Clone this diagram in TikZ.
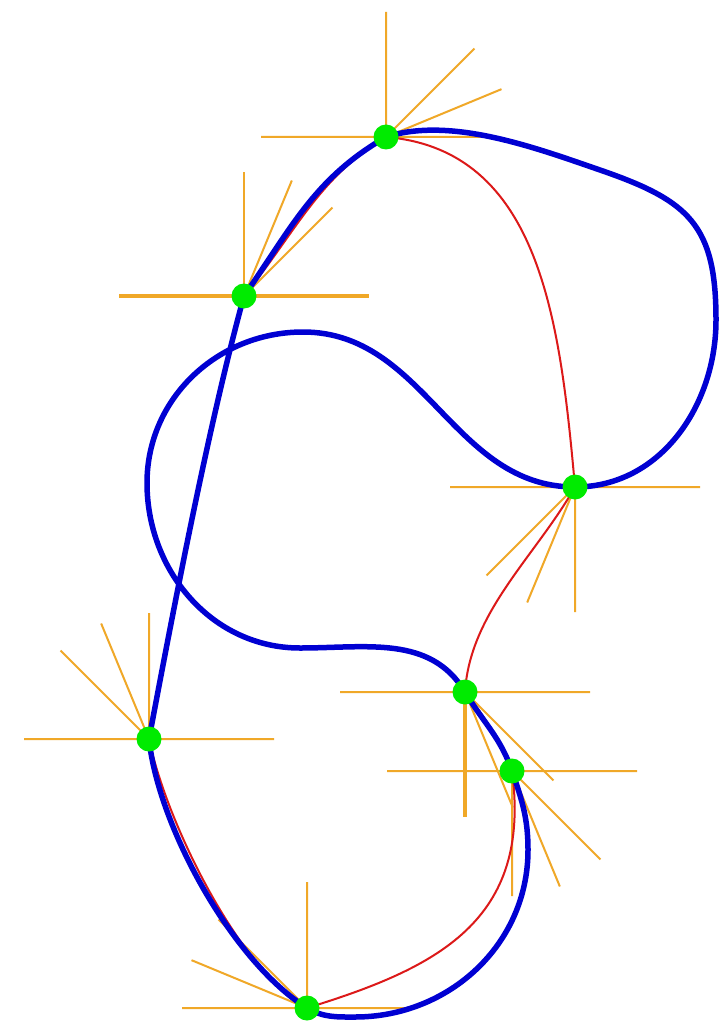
\documentclass[tikz,border=0pt]{standalone}
\usepackage{xcolor}
\usepackage{tikz}

\definecolor{curveblue}{RGB}{0,0,210}
\definecolor{curvered}{RGB}{220,25,25}
\definecolor{raycolor}{RGB}{240,168,40}
\definecolor{dotgreen}{RGB}{0,235,0}

\begin{document}
\begin{tikzpicture}[
  x=1pt, y=1pt,
  % Curve styles
  maincurve/.style={draw=curveblue, line width=5.5pt, line join=round, line cap=round},
  altcurve/.style={draw=curvered, line width=2pt, line cap=round},
  dirline/.style={draw=raycolor, line width=2pt},
  dirthick/.style={dirline, line width=3.6pt},
  dot/.style={circle, fill=dotgreen, draw=none, inner sep=0pt, minimum size=25pt}
]
  \path[fill=white, use as bounding box] (0,0) rectangle (720,-1024);

  % Knots
  \coordinate (p1) at (386,-137);
  \coordinate (p2) at (244,-296);
  \coordinate (p3) at (575,-487);
  \coordinate (p4) at (149,-739);
  \coordinate (p5) at (465,-692);
  \coordinate (p6) at (512,-771);
  \coordinate (p7) at (307,-1008);

  % Extra points the blue curve passes
  \coordinate (a) at (600,-170);
  \coordinate (b) at (716,-320);
  \coordinate (d) at (303,-332);
  \coordinate (e) at (147,-483);
  \coordinate (f) at (300,-648);
  \coordinate (g) at (528,-850);
  \coordinate (h) at (355,-1017);

  % Direction rays at each knot
  \draw[dirline] (p1) ++(-125,0) -- ++(228,0) (p1) -- ++(90:125) (p1) -- ++(45:125) (p1) -- ++(22.5:125);
  \draw[dirthick] (p2) ++(-125,0) -- ++(250,0);
  \draw[dirline, line width=2.8pt] (p2) -- ++(90:124);
  \draw[dirline] (p2) -- ++(67.5:125) (p2) -- ++(45:125);
  \draw[dirline] (p3) ++(-125,0) -- ++(250,0) (p3) -- ++(270:125) (p3) -- ++(225:125) (p3) -- ++(247.5:125);
  \draw[dirline] (p4) ++(-125,0) -- ++(250,0) (p4) -- ++(90:126) (p4) -- ++(135:125) (p4) -- ++(112.5:125);
  \draw[dirline] (p5) ++(-125,0) -- ++(250,0) (p5) -- ++(315:125) (p5) -- ++(292.5:125);
  \draw[dirthick] (p5) -- ++(270:125);
  \draw[dirline] (p6) ++(-125,0) -- ++(250,0) (p6) -- ++(270:125) (p6) -- ++(315:125) (p6) -- ++(292.5:125);
  \draw[dirline] (p7) ++(-125,0) -- ++(226,0) (p7) -- ++(90:126) (p7) -- ++(135:125) (p7) -- ++(157.5:125);

  % Red curve through the same knots
  \draw[altcurve] (p1) .. controls (540,-150) and (560,-320) .. (p3);
  \draw[altcurve] (p3) .. controls (535,-557) and (470,-612) .. (p5);
  \draw[altcurve] (p5) .. controls (485,-717) and (500,-741) .. (p6);
  \draw[altcurve] (p6) .. controls (532,-921) and (437,-968) .. (p7);
  \draw[altcurve] (p7) .. controls (240,-972) and (166,-822) .. (p4);
  \draw[altcurve] (p4) .. controls (177,-590) and (210,-420) .. (p2);
  \draw[altcurve] (p2) .. controls (296,-232) and (318,-178) .. (p1);

  % Blue curve with loops
  \draw[maincurve] (p4) .. controls (177,-590) and (210,-420) .. (p2)
    to[out=55, in=210] (p1)
    to[out=18, in=161, looseness=0.8] (a)
    to[out=-19, in=90, looseness=1.28] (b)
    to[out=-90, in=0] (p3)
    to[out=180, in=0] (d)
    to[out=180, in=90] (e)
    to[out=-90, in=180] (f)
    to[out=0, in=121] (p5)
    to[out=-59, in=109] (p6)
    to[out=-71, in=90] (g)
    to[out=-90, in=0] (h)
    to[out=180, in=-30] (p7)
    to[out=148, in=-84, looseness=0.72] (p4) -- cycle;

  % Knot markers
  \node[dot] (d1) at (p1) {};
  \node[dot] (d2) at (p2) {};
  \node[dot] (d3) at (p3) {};
  \node[dot] (d4) at (p4) {};
  \node[dot] (d5) at (p5) {};
  \node[dot] (d6) at (p6) {};
  \node[dot] (d7) at (p7) {};
\end{tikzpicture}
\end{document}
